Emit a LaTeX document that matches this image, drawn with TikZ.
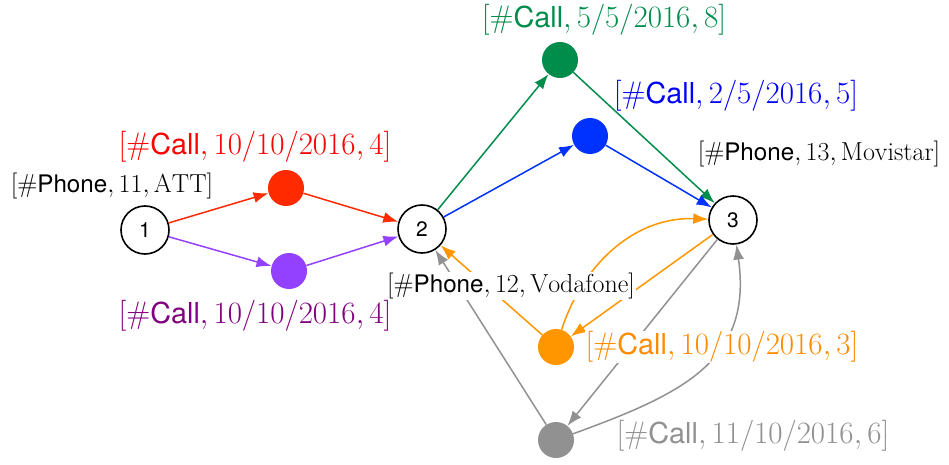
\RequirePackage{fix-cm}
\documentclass[tikz,border=0pt]{standalone}
\usepackage{fontspec}
\setsansfont[Scale=0.93]{TeX Gyre Heros}
\usetikzlibrary{arrows.meta}
\definecolor{cred}{RGB}{255,42,0}
\definecolor{cpurple}{RGB}{148,64,255}
\definecolor{lpurple}{RGB}{128,0,128}
\definecolor{cgreen}{RGB}{0,140,75}
\definecolor{cblue}{RGB}{0,50,255}
\definecolor{lblue}{RGB}{0,0,255}
\definecolor{corange}{RGB}{255,150,0}
\definecolor{lorange}{RGB}{255,140,0}
\definecolor{cgray}{RGB}{145,145,145}
\tikzset{
  phone/.style={circle,draw=black,line width=1.6pt,minimum size=48pt,inner sep=0pt,font=\fontsize{22.5}{26}\sffamily},
  call/.style={circle,fill=#1,minimum size=36pt,inner sep=0pt},
  edge/.style={line width=1.5pt,draw=#1,-{Latex[length=15pt,width=11pt]}},
  blab/.style={font=\fontsize{26}{30}\selectfont,inner sep=1pt},
  clab/.style={font=\fontsize{31}{36}\selectfont,text=#1,inner sep=1pt}
}
\newcommand{\cs}{\textsf{Call}}
\newcommand{\ps}{\textsf{Phone}}
\begin{document}
\begin{tikzpicture}[x=1pt,y=-1pt]
\useasboundingbox (0,0) rectangle (949,465);
\node[phone] (n1) at (145,230) {1};
\node[phone] (n2) at (422,229) {2};
\node[phone] (n3) at (733,220) {3};
\node[call=cred] (r) at (286,188) {};
\node[call=cpurple] (p) at (289,271) {};
\node[call=cgreen] (g) at (560,60) {};
\node[call=cblue] (b) at (590,136) {};
\node[call=corange] (o) at (556,347) {};
\node[call=cgray] (k) at (556,440) {};
% edges
\draw[edge=cred] (n1) -- (r);
\draw[edge=cred] (r) -- (n2);
\draw[edge=cpurple] (n1) -- (p);
\draw[edge=cpurple] (p) -- (n2);
\draw[edge=cgreen] (n2) -- (g);
\draw[edge=cgreen] (g) -- (n3);
\draw[edge=cblue] (n2) -- (b);
\draw[edge=cblue] (b) -- (n3);
\draw[edge=corange] (o) -- (n2);
\draw[edge=corange] (o) to[out=72,in=178] (n3);
\draw[edge=corange] (n3) -- (o);
\draw[edge=cgray] (k) -- (n2);
\draw[edge=cgray] (n3) -- (k);
\draw[edge=cgray] (k) to[out=20,in=-82,looseness=1.2] (n3);
% labels
\node[blab] (l1) at (112,186) {$[\#\ps,11,\mathrm{ATT}]$};
\node[blab,fill=white] (l2) at (511,286) {$[\#\ps,12,\mathrm{Vodafone}]$};
\node[blab] (l3) at (819,154) {$[\#\ps,13,\mathrm{Movistar}]$};
\node[clab=red] (lr) at (255,147) {$[\#\cs,10/10/2016,4]$};
\node[clab=lpurple] (lp) at (255,316) {$[\#\cs,10/10/2016,4]$};
\node[clab=cgreen] (lg) at (604,20) {$[\#\cs,5/5/2016,8]$};
\node[clab=lblue] (lb) at (736,96) {$[\#\cs,2/5/2016,5]$};
\node[clab=lorange,fill=white] (lo) at (722,347) {$[\#\cs,10/10/2016,3]$};
\node[clab=cgray,fill=white] (lk) at (753,436) {$[\#\cs,11/10/2016,6]$};
\end{tikzpicture}
\end{document}
